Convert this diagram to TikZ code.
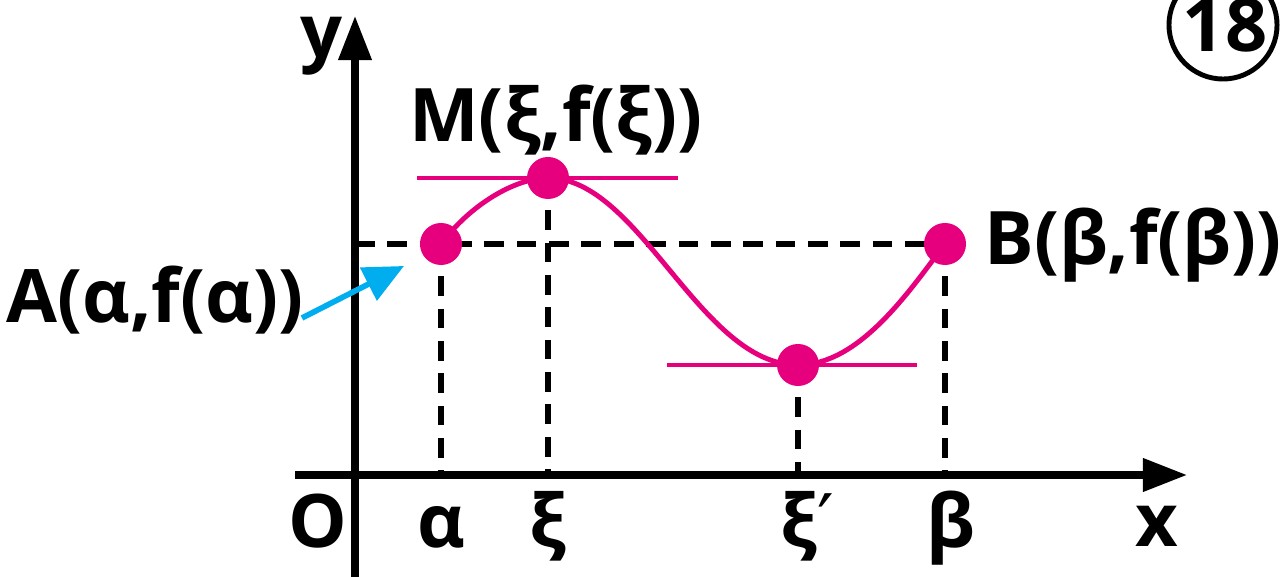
\documentclass[tikz,border=0pt]{standalone}
\usepackage{fontspec}
\setmainfont{Open Sans}
\newfontfamily\dejavu{DejaVu Sans}
\usetikzlibrary{arrows.meta}
\definecolor{mag}{RGB}{230,0,126}
\definecolor{cyanA}{RGB}{0,174,239}
\begin{document}
\begin{tikzpicture}[x=0.01cm,y=-0.01cm,
  lbl/.style={font=\fontsize{21}{24}\selectfont\bfseries,inner sep=0pt},
  axis/.style={line width=2pt,-{Triangle[length=0.44cm,width=0.32cm]}},
  guide/.style={line width=1.6pt,dash pattern=on 5.6pt off 3.6pt},
  tang/.style={line width=1.4pt,mag},
  pt/.style={circle,fill=mag,minimum size=0.42cm,inner sep=0pt},
  ]
\useasboundingbox (0,0) rectangle (1288,577);
% axes
\coordinate (ybot) at (355,577);
\coordinate (ytop) at (355,16);
\coordinate (xl) at (295,475);
\coordinate (xr) at (1187,475);
% points
\coordinate (A) at (441,244);
\coordinate (M) at (548,178);
\coordinate (N) at (798,365);
\coordinate (B) at (945,244);
\coordinate (yA) at (355,244);
\coordinate (xA) at (441,475);
\coordinate (xM) at (548,475);
\coordinate (xN) at (798,475);
\coordinate (xB) at (945,475);
\coordinate (tM1) at (417,178);
\coordinate (tM2) at (678,178);
\coordinate (tN1) at (667,365);
\coordinate (tN2) at (917,365);
% dashed guides
\draw[guide] (yA) -- (B);
\draw[guide] (A) -- (xA);
\draw[guide] (M) -- (xM);
\draw[guide] (N) -- (xN);
\draw[guide] (B) -- (xB);
% axes
\draw[axis] (ybot) -- (ytop);
\draw[axis] (xl) -- (xr);
% tangents
\draw[tang] (tM1) -- (tM2);
\draw[tang] (tN1) -- (tN2);
% curve
\draw[mag,line width=1.4pt] (A) .. controls (470,205) and (515,178) .. (M)
  .. controls (640,178) and (700,365) .. (N)
  .. controls (860,365) and (910,290) .. (B);
% dots
\node[pt] (pA) at (A) {};
\node[pt] (pM) at (M) {};
\node[pt] (pN) at (N) {};
\node[pt] (pB) at (B) {};
% labels
\node[lbl,anchor=base] (ly) at (322,58) {y};
\node[lbl,anchor=base] (lx) at (1157,547) {x};
\node[lbl,anchor=base] (lO) at (318,548) {O};
\node[lbl,anchor=base] (la) at (441,548) {α};
\node[lbl,anchor=base] (lxi) at (548,548) {ξ};
\node[lbl,anchor=base] (lxi2) at (807,548) {ξ{\dejavu\mdseries ′}};
\node[lbl,anchor=base] (lb) at (951,548) {β};
\node[lbl,anchor=base] (lA) at (155,323) {A(α,f(α))};
\node[lbl,anchor=base] (lM) at (556,142) {M(ξ,f(ξ))};
\node[lbl,anchor=base] (lB) at (1133,265) {B(β,f(β))};
% blue arrow
\coordinate (bs) at (302,318);
\coordinate (be) at (404,266);
\draw[cyanA,line width=1.6pt,-{Triangle[length=0.4cm,width=0.36cm]}] (bs) -- (be);
% circled number
\node[circle,draw,line width=1.4pt,minimum size=1.08cm,inner sep=0pt] (n18) at (1223,25) {};
\node[lbl,anchor=base] (t18) at (1225,52) {18};
\end{tikzpicture}
\end{document}
